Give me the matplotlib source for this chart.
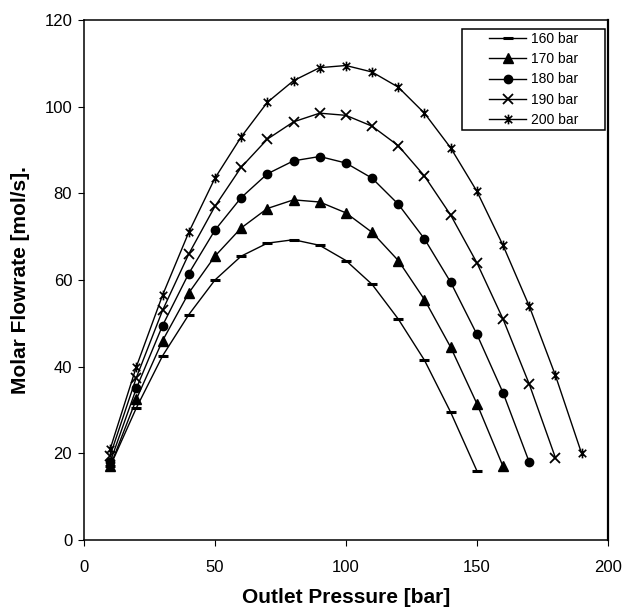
import matplotlib
matplotlib.use('Agg')
import matplotlib.pyplot as plt
from matplotlib.path import Path
from matplotlib.patches import Rectangle

plt.rcParams['font.family'] = ['Liberation Sans', 'DejaVu Sans']

# outlet pressure [bar]
p160 = [10, 20, 30, 40, 50, 60, 70, 80, 90, 100, 110, 120, 130, 140, 150]
p170 = p160 + [160]
p180 = p170 + [170]
p190 = p180 + [180]
p200 = p190 + [190]

# molar flowrate [mol/s]
f160 = [17, 30.5, 42.5, 52, 60, 65.5, 68.5, 69.3, 68, 64.5, 59, 51, 41.5, 29.5, 16]
f170 = [17, 32.5, 46, 57, 65.5, 72, 76.5, 78.5, 78, 75.5, 71, 64.5, 55.5, 44.5, 31.5, 17]
f180 = [18, 35, 49.5, 61.5, 71.5, 79, 84.5, 87.5, 88.5, 87, 83.5, 77.5, 69.5, 59.5, 47.5, 34, 18]
f190 = [19.5, 37.5, 53, 66, 77, 86, 92.5, 96.5, 98.5, 98, 95.5, 91, 84, 75, 64, 51, 36, 19]
f200 = [21, 40, 56.5, 71, 83.5, 93, 101, 106, 109, 109.5, 108, 104.5, 98.5, 90.5, 80.5, 68, 54, 38, 20]

labels = ['160 bar', '170 bar', '180 bar', '190 bar', '200 bar']

# excel style asterisk: x with a vertical bar
star = Path([(-1, -1), (1, 1), (-1, 1), (1, -1), (0, -1.3), (0, 1.3)],
            [Path.MOVETO, Path.LINETO, Path.MOVETO, Path.LINETO, Path.MOVETO, Path.LINETO])

fig = plt.figure(figsize=(6.24, 6.08), dpi=100)
ax = fig.add_axes([0.1346, 0.1118, 0.8394, 0.8553])

lw = 1.0
ax.plot(p160, f160, color='black', lw=lw, marker='_', ms=7, mew=2.2, label=labels[0])
ax.plot(p170, f170, color='black', lw=lw, marker='^', ms=6.5, label=labels[1])
ax.plot(p180, f180, color='black', lw=lw, marker='o', ms=6, label=labels[2])
ax.plot(p190, f190, color='black', lw=lw, marker='x', ms=6.8, mew=1.3, label=labels[3])
ax.plot(p200, f200, color='black', lw=lw, marker=star, ms=7, mew=1.2, label=labels[4])

ax.set_xlim(0, 200)
ax.set_ylim(0, 120)
ax.set_xticks([0, 50, 100, 150, 200])
ax.set_yticks([0, 20, 40, 60, 80, 100, 120])
ax.tick_params(direction='out', length=4.5, labelsize=12)
ax.tick_params(axis='x', pad=10)
ax.tick_params(axis='y', pad=4)
for s in ax.spines.values():
    s.set_linewidth(1.1)
ax.spines['right'].set_linewidth(1.6)

ax.set_xlabel('Outlet Pressure [bar]', fontsize=15, fontweight='bold', labelpad=9)
ax.set_ylabel('Molar Flowrate [mol/s].', fontsize=15, fontweight='bold', labelpad=10)

leg = ax.legend(loc='upper right', bbox_to_anchor=(0.943, 0.977), fontsize=10,
                frameon=False, handlelength=2.7, handletextpad=0.3,
                labelspacing=0.45, borderpad=0, borderaxespad=0)

# excel legend box: wide side padding, tight top/bottom
fig.canvas.draw()
bb = leg.get_window_extent().transformed(fig.transFigure.inverted())
padx = 27 / 624
pady = 3 / 608
box = Rectangle((bb.x0 - padx, bb.y0 - pady), bb.width + 2 * padx, bb.height + 2 * pady,
                transform=fig.transFigure, fill=False, ec='black', lw=1.1, zorder=5)
fig.add_artist(box)

fig.savefig('out.png', dpi=100)
